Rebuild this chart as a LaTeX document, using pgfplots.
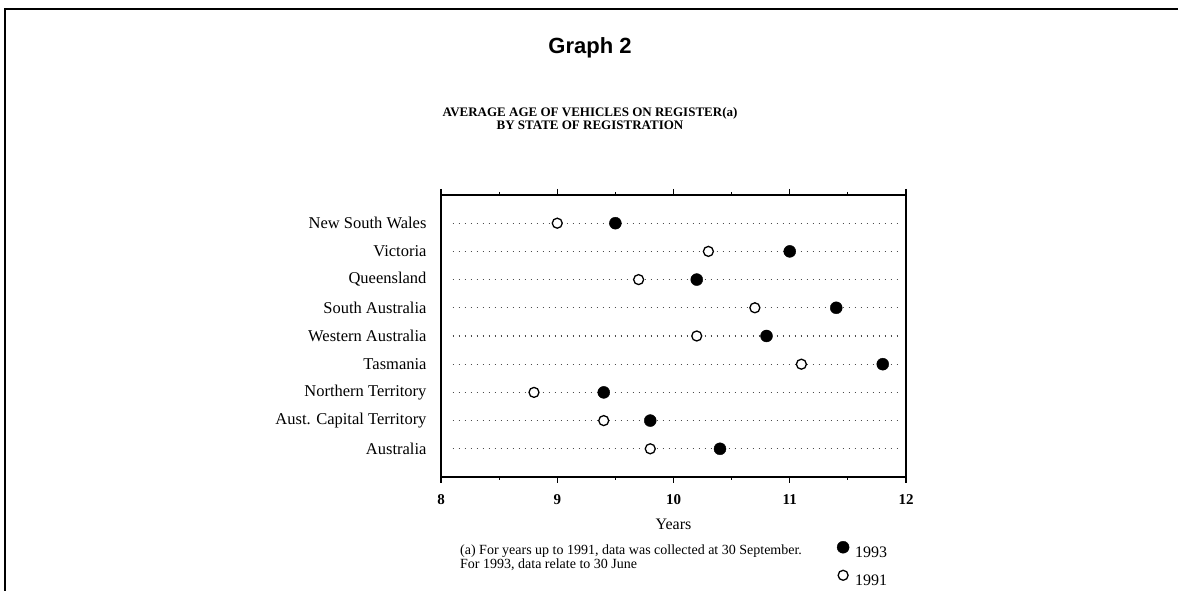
\documentclass[border=0pt]{standalone}
\usepackage{fontspec}
\setmainfont{Liberation Serif}
\newfontfamily\headfont{Liberation Sans}
\usepackage{pgfplots}
\pgfplotsset{compat=1.18}

\begin{document}
\begin{tikzpicture}[x=1pt,y=1pt]
\useasboundingbox (0,0) rectangle (1178,591);
% page frame (open at the bottom, as in the scan)
\draw[line width=1.3pt] (5,0) -- (5,582) -- (1178,582);
\node[font=\headfont\bfseries\fontsize{22}{26}\selectfont] at (590,543) {Graph 2};
\node[font=\bfseries\fontsize{13}{13}\selectfont, align=center] at (590,472)
  {AVERAGE AGE OF VEHICLES ON REGISTER(a)\\BY STATE OF REGISTRATION};

\begin{axis}[
  at={(441pt,114pt)}, anchor=south west,
  scale only axis, width=465pt, height=282pt,
  xmin=8, xmax=12, ymin=0, ymax=10,
  xtick={8,9,10,11,12},
  minor xtick={8.5,9.5,10.5,11.5},
  ytick={1,...,9},
  yticklabels={Australia, Aust. Capital Territory, Northern Territory, Tasmania,
    Western Australia, South Australia, Queensland, Victoria, New South Wales},
  tick align=outside, tick pos=both,
  xticklabel pos=bottom, yticklabel pos=left,
  major tick length=6pt, minor tick length=3pt,
  ytick style={draw=none},
  axis line style={line width=1.4pt},
  x tick style={line width=1.2pt, black},
  /pgf/number format/assume math mode=true,
  xticklabel style={font=\bfseries\fontsize{15}{16}\selectfont, yshift=-8pt},
  yticklabel style={font=\fontsize{16.5}{17}\selectfont, xshift=-5pt},
  xlabel={Years},
  xlabel style={font=\fontsize{16}{17}\selectfont, at={(axis description cs:0.5,0)},
    anchor=center, yshift=-47pt},
  legend style={at={(0.845,-0.22)}, anchor=north west, draw=none, fill=none,
    font=\fontsize{16}{17}\selectfont, row sep=9pt},
  legend image post style={yshift=6pt},
  legend cell align=left,
  clip=false,
]
% dotted guide lines for each state
\pgfplotsinvokeforeach{1,...,9}{
  \addplot[forget plot, black!70, line width=1.2pt, dash pattern=on 1.2pt off 4.8pt]
    coordinates {(8.1,#1) (11.95,#1)};
}
\addplot[only marks, mark=*, mark size=6pt, black] coordinates {
  (9.5,9) (11.0,8) (10.2,7) (11.4,6) (10.8,5) (11.8,4) (9.4,3) (9.8,2) (10.4,1)};
\addlegendentry{\hspace{4pt}1993}
\addplot[only marks, mark=*, mark size=5pt, draw=black, fill=white, line width=1.3pt] coordinates {
  (9.0,9) (10.3,8) (9.7,7) (10.7,6) (10.2,5) (11.1,4) (8.8,3) (9.4,2) (9.8,1)};
\addlegendentry{\hspace{4pt}1991}
\end{axis}

\node[anchor=north west, align=left, font=\fontsize{14}{12.5}\selectfont, inner sep=0pt]
  at (460,46) {(a) For years up to 1991, data was collected at 30 September.\\
  For 1993, data relate to 30 June};
\end{tikzpicture}
\end{document}
